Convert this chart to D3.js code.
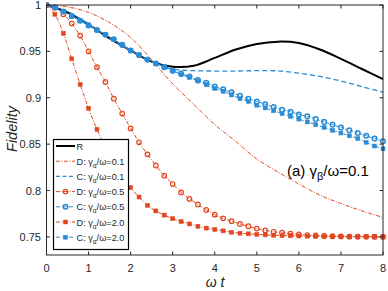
<!DOCTYPE html>
<html><head><meta charset="utf-8">
<script src="https://cdn.jsdelivr.net/npm/d3@7"></script>
<style>
html,body{margin:0;padding:0;background:#fff;}
svg{display:block;font-family:"Liberation Sans",Arial,Helvetica,sans-serif;}
</style></head>
<body>
<svg id="chart" width="388" height="291"></svg>
<script>
// ---- data ----
const tCoarse = [0,0.5,1,1.5,2,2.5,3,3.5,4,4.5,5,5.5,6,6.5,7,7.5,8];
const R      = [1.000,0.992,0.979,0.964,0.951,0.939,0.9335,0.9345,0.943,0.952,0.958,0.9605,0.959,0.952,0.942,0.931,0.920];
const D01    = [1.000,0.998,0.992,0.981,0.965,0.941,0.915,0.893,0.871,0.853,0.834,0.820,0.807,0.795,0.786,0.778,0.771];
const C01    = [1.000,0.993,0.979,0.964,0.951,0.939,0.931,0.9292,0.9288,0.9288,0.9292,0.929,0.9265,0.923,0.918,0.912,0.906];

const tFine = [0,0.2,0.4,0.6,0.8,1,1.2,1.4,1.6,1.8,2,2.2,2.4,2.6,2.8,3,3.2,3.4,3.6,3.8,4,
               4.2,4.4,4.6,4.8,5,5.2,5.4,5.6,5.8,6,6.2,6.4,6.6,6.8,7,7.2,7.4,7.6,7.8,8];
const D05 = [1.000,0.997,0.990,0.980,0.967,0.950,0.933,0.917,0.899,0.883,0.867,0.852,0.839,0.827,0.816,0.807,0.798,0.791,0.785,0.779,0.774,
             0.770,0.767,0.764,0.7615,0.759,0.757,0.7555,0.7545,0.7535,0.7527,0.752,0.7515,0.751,0.7507,0.7505,0.7503,0.7502,0.7501,0.7500,0.7500];
const C05 = [1.000,0.9975,0.993,0.988,0.983,0.978,0.973,0.968,0.963,0.957,0.951,0.946,0.941,0.937,0.933,0.929,0.926,0.923,0.919,0.916,0.912,
             0.909,0.906,0.902,0.899,0.896,0.893,0.890,0.887,0.885,0.882,0.880,0.877,0.874,0.871,0.868,0.865,0.862,0.859,0.856,0.853];
const D20 = [1.000,0.990,0.9695,0.942,0.9145,0.8887,0.866,0.846,0.830,0.816,0.8032,0.793,0.784,0.778,0.7735,0.7697,0.7665,0.764,0.7615,0.7595,0.758,
             0.7565,0.755,0.754,0.7533,0.7527,0.7522,0.7518,0.7515,0.7512,0.751,0.7508,0.7507,0.7506,0.7505,0.7505,0.7505,0.7505,0.7505,0.7505,0.7505];
const C20 = [1.000,0.9975,0.993,0.988,0.983,0.978,0.973,0.968,0.963,0.957,0.951,0.946,0.941,0.937,0.933,0.929,0.925,0.922,0.918,0.914,0.910,
             0.907,0.903,0.899,0.896,0.892,0.889,0.886,0.883,0.880,0.877,0.874,0.871,0.868,0.865,0.862,0.859,0.856,0.852,0.848,0.845];

const xTicks = [0,1,2,3,4,5,6,7,8];
const yTicks = [0.75,0.8,0.85,0.9,0.95,1];
const yTickLabels = ["0.75","0.8","0.85","0.9","0.95","1"];

const RED = "#e2461f", BLUE = "#2b8cd6";

// ---- layout ----
const svg = d3.select("#chart");
const L = 46.5, Rgt = 383, T = 5, B = 255;
const x = d3.scaleLinear().domain([0,8]).range([L,Rgt]);
const y = d3.scaleLinear().domain([0.7305,1]).range([B,T]);

const plot = svg.append("g");
const clipId = "clipPlot";
svg.append("defs").append("clipPath").attr("id",clipId)
  .append("rect").attr("x",L).attr("y",T-4).attr("width",Rgt-L+4).attr("height",B-T+4);

const series = [
  {name:"R", t:tCoarse, v:R, color:"#000", width:2, dash:null, marker:null},
  {name:"D01", t:tCoarse, v:D01, color:RED, width:1, dash:"4,1.5,1,1.5", marker:null},
  {name:"C01", t:tCoarse, v:C01, color:BLUE, width:1.3, dash:"5,3", marker:null},
  {name:"D05", t:tFine, v:D05, color:RED, width:1, dash:"4,1.5,1,1.5", marker:"circle"},
  {name:"C05", t:tFine, v:C05, color:BLUE, width:1, dash:"3,2", marker:"circle"},
  {name:"D20", t:tFine, v:D20, color:RED, width:1, dash:"4,1.5,1,1.5", marker:"square"},
  {name:"C20", t:tFine, v:C20, color:BLUE, width:1, dash:"3,2", marker:"square"}
];

const line = d3.line().x(d=>x(d[0])).y(d=>y(d[1])).curve(d3.curveCatmullRom.alpha(0.5));
const gData = plot.append("g").attr("clip-path",`url(#${clipId})`);

function drawMarker(g, type, cx, cy, color){
  if(type==="circle"){
    g.append("circle").attr("cx",cx).attr("cy",cy).attr("r",2.3)
      .attr("fill","none").attr("stroke",color).attr("stroke-width",color===BLUE?1.5:1.2);
  } else if(type==="square"){
    g.append("rect").attr("x",cx-2).attr("y",cy-2).attr("width",4).attr("height",4)
      .attr("fill",color).attr("stroke",color).attr("stroke-width",0.5);
  }
}

series.forEach(s=>{
  const pts = s.t.map((t,i)=>[t,s.v[i]]);
  gData.append("path").datum(pts).attr("d",line)
    .attr("fill","none").attr("stroke",s.color).attr("stroke-width",s.width)
    .attr("stroke-dasharray",s.dash);
  if(s.marker){
    const gm = gData.append("g");
    pts.forEach(p=>drawMarker(gm,s.marker,x(p[0]),y(p[1]),s.color));
  }
});

// ---- axes box with inward ticks ----
const axCol = "#262626";
const gAx = svg.append("g");
gAx.append("rect").attr("x",L).attr("y",T).attr("width",Rgt-L).attr("height",B-T)
  .attr("fill","none").attr("stroke",axCol).attr("stroke-width",1);
const tl = 3.5;
xTicks.forEach(v=>{
  const px = x(v);
  gAx.append("line").attr("x1",px).attr("x2",px).attr("y1",B).attr("y2",B-tl).attr("stroke",axCol);
  gAx.append("line").attr("x1",px).attr("x2",px).attr("y1",T).attr("y2",T+tl).attr("stroke",axCol);
  gAx.append("text").attr("x",px).attr("y",272).attr("text-anchor","middle")
    .attr("font-size",11).attr("fill",axCol).text(String(v));
});
yTicks.forEach((v,i)=>{
  const py = y(v);
  gAx.append("line").attr("x1",L).attr("x2",L+tl).attr("y1",py).attr("y2",py).attr("stroke",axCol);
  gAx.append("line").attr("x1",Rgt).attr("x2",Rgt-tl).attr("y1",py).attr("y2",py).attr("stroke",axCol);
  gAx.append("text").attr("x",41).attr("y",py+4).attr("text-anchor","end")
    .attr("font-size",11).attr("fill",axCol).text(yTickLabels[i]);
});

// axis labels
svg.append("text").attr("transform","translate(17,129) rotate(-90)")
  .attr("text-anchor","middle").attr("font-size",14.5).attr("font-style","italic")
  .attr("fill",axCol).text("Fidelity");
const xl = svg.append("text").attr("x",215).attr("y",287).attr("text-anchor","middle")
  .attr("font-size",14).attr("font-style","italic").attr("fill",axCol);
xl.append("tspan").text("ω t");

// annotation
const ann = svg.append("text").attr("x",287).attr("y",176).attr("font-size",15).attr("fill","#000");
ann.append("tspan").text("(a) γ");
ann.append("tspan").attr("dy",4).attr("font-size",11).text("β");
ann.append("tspan").attr("dy",-4).text("/ω=0.1");

// ---- legend ----
const lg = svg.append("g");
lg.append("rect").attr("x",53.5).attr("y",139.5).attr("width",75).attr("height",110)
  .attr("fill","#fff").attr("stroke","#000").attr("stroke-width",1.2);
const legItems = [
  {s:series[0], label:["R"]},
  {s:series[1], label:["D: γ","α","/ω=0.1"]},
  {s:series[2], label:["C: γ","α","/ω=0.1"]},
  {s:series[3], label:["D: γ","α","/ω=0.5"]},
  {s:series[4], label:["C: γ","α","/ω=0.5"]},
  {s:series[5], label:["D: γ","α","/ω=2.0"]},
  {s:series[6], label:["C: γ","α","/ω=2.0"]}
];
legItems.forEach((it,i)=>{
  const cy = 146 + i*15.2;
  const s = it.s;
  lg.append("line").attr("x1",56).attr("x2",75).attr("y1",cy).attr("y2",cy)
    .attr("stroke",s.color).attr("stroke-width",s.width)
    .attr("stroke-dasharray", s.dash ? (s.color===BLUE ? "4,2.5" : "4,1.5,1,1.5") : null);
  if(s.marker) drawMarker(lg,s.marker,65.5,cy,s.color);
  const tx = lg.append("text").attr("x",76.5).attr("y",cy+3.5).attr("font-size",9.2).attr("fill","#262626");
  tx.append("tspan").text(it.label[0]);
  if(it.label.length>1){
    tx.append("tspan").attr("dy",3).attr("font-size",6.5).text(it.label[1]);
    tx.append("tspan").attr("dy",-3).text(it.label[2]);
  }
});
</script>
</body></html>
